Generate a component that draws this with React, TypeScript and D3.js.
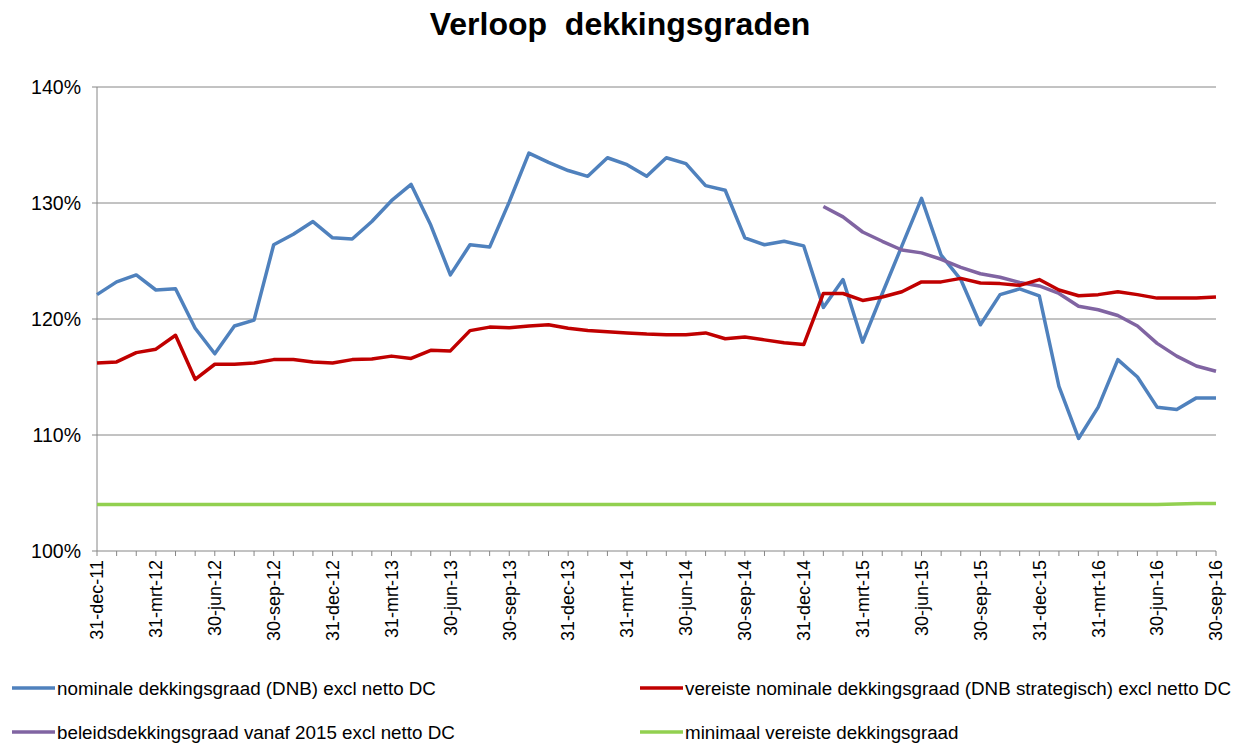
import * as d3 from 'd3';

// monthly values, 31-dec-11 .. 30-sep-16 (58 months)
const nominaal = [
  122.1, 123.2, 123.8, 122.5, 122.6, 119.2, 117.0, 119.4, 119.9, 126.4,
  127.3, 128.4, 127.0, 126.9, 128.4, 130.2, 131.6, 128.1, 123.8, 126.4,
  126.2, 130.1, 134.3, 133.5, 132.8, 132.3, 133.9, 133.3, 132.3, 133.9,
  133.4, 131.5, 131.1, 127.0, 126.4, 126.7, 126.3, 121.0, 123.4, 118.0,
  122.2, 126.3, 130.4, 125.5, 123.4, 119.5, 122.1, 122.6, 122.0, 114.2,
  109.7, 112.4, 116.5, 115.0, 112.4, 112.2, 113.2, 113.2,
];
const vereist = [
  116.2, 116.3, 117.1, 117.4, 118.6, 114.8, 116.1, 116.1, 116.2, 116.5,
  116.5, 116.3, 116.2, 116.5, 116.55, 116.8, 116.6, 117.3, 117.25, 119.0,
  119.3, 119.25, 119.4, 119.5, 119.2, 119.0, 118.9, 118.8, 118.7, 118.65,
  118.65, 118.8, 118.3, 118.45, 118.2, 117.95, 117.8, 122.2, 122.2, 121.6,
  121.9, 122.35, 123.2, 123.2, 123.5, 123.1, 123.05, 122.9, 123.4, 122.5,
  122.0, 122.1, 122.35, 122.1, 121.8, 121.8, 121.8, 121.9,
];
// beleidsdekkingsgraad starts 31-jan-15 (month index 37)
const beleidStart = 37;
const beleid = [
  129.7, 128.8, 127.5, 126.7, 125.95, 125.7, 125.15, 124.45, 123.9, 123.6,
  123.15, 122.85, 122.2, 121.1, 120.8, 120.3, 119.4, 117.9, 116.8, 115.95,
  115.5,
];
const minimaal = [
  104.0, 104.0, 104.0, 104.0, 104.0, 104.0, 104.0, 104.0, 104.0, 104.0,
  104.0, 104.0, 104.0, 104.0, 104.0, 104.0, 104.0, 104.0, 104.0, 104.0,
  104.0, 104.0, 104.0, 104.0, 104.0, 104.0, 104.0, 104.0, 104.0, 104.0,
  104.0, 104.0, 104.0, 104.0, 104.0, 104.0, 104.0, 104.0, 104.0, 104.0,
  104.0, 104.0, 104.0, 104.0, 104.0, 104.0, 104.0, 104.0, 104.0, 104.0,
  104.0, 104.0, 104.0, 104.0, 104.0, 104.05, 104.1, 104.1,
];
const tickLabels = [
  '31-dec-11', '31-mrt-12', '30-jun-12', '30-sep-12', '31-dec-12', '31-mrt-13',
  '30-jun-13', '30-sep-13', '31-dec-13', '31-mrt-14', '30-jun-14', '30-sep-14',
  '31-dec-14', '31-mrt-15', '30-jun-15', '30-sep-15', '31-dec-15', '31-mrt-16',
  '30-jun-16', '30-sep-16',
];
const yTicks = [100, 110, 120, 130, 140];

const seriesNames = [
  'nominale dekkingsgraad (DNB) excl netto DC',
  'vereiste nominale dekkingsgraad (DNB strategisch) excl netto DC',
  'beleidsdekkingsgraad vanaf 2015 excl netto DC',
  'minimaal vereiste dekkingsgraad',
];
const colors = ['#4F81BD', '#C00000', '#8064A2', '#92D050'];

const W = 1250;
const H = 744;
const M = { top: 87, right: 34, bottom: 193, left: 97 };
const FONT = '"Liberation Sans", Arial, sans-serif';

type Pt = { i: number; v: number };

export default function App() {
  const innerW = W - M.left - M.right;
  const innerH = H - M.top - M.bottom;

  const x = d3.scaleLinear().domain([0, nominaal.length - 1]).range([0, innerW]);
  const y = d3.scaleLinear().domain([100, 140]).range([innerH, 0]);

  const line = d3
    .line<Pt>()
    .x((d) => x(d.i))
    .y((d) => y(d.v));

  const toPts = (arr: number[], start = 0): Pt[] => arr.map((v, k) => ({ i: k + start, v }));
  const series = [toPts(nominaal), toPts(vereist), toPts(beleid, beleidStart), toPts(minimaal)];
  // red sits on top of blue where they cross
  const drawOrder = [3, 0, 2, 1];

  const legendPos = [
    { x: 12, y: 688 },
    { x: 640, y: 688 },
    { x: 12, y: 732 },
    { x: 640, y: 732 },
  ];

  return (
    <svg
      width={W}
      height={H}
      style={{ position: 'absolute', left: 0, top: 0, background: '#fff' }}
      fontFamily={FONT}
    >
      <text
        x={620}
        y={35}
        textAnchor="middle"
        fontSize={32}
        fontWeight="bold"
        fill="#000"
        style={{ whiteSpace: 'pre' }}
      >
        {'Verloop  dekkingsgraden'}
      </text>
      <g transform={`translate(${M.left},${M.top})`}>
        {yTicks.map((t) => (
          <g key={t}>
            {t > 100 && (
              <line x1={0} x2={innerW} y1={y(t)} y2={y(t)} stroke="#868686" strokeWidth={1} />
            )}
            <line x1={-5} x2={0} y1={y(t)} y2={y(t)} stroke="#868686" />
            <text x={-16} y={y(t)} dy="0.35em" textAnchor="end" fontSize={19.5} fill="#000">
              {t}%
            </text>
          </g>
        ))}
        <line x1={0} x2={0} y1={0} y2={innerH} stroke="#868686" />
        <line x1={0} x2={innerW} y1={innerH} y2={innerH} stroke="#868686" />
        {d3.range(nominaal.length).map((i) => (
          <line
            key={i}
            x1={x(i)}
            x2={x(i)}
            y1={innerH}
            y2={innerH + 5}
            stroke="#868686"
          />
        ))}
        {tickLabels.map((lab, k) => (
          <text
            key={lab}
            transform={`translate(${x(k * 3)},${innerH + 9}) rotate(-90)`}
            dy="0.35em"
            textAnchor="end"
            fontSize={18}
            fill="#000"
          >
            {lab}
          </text>
        ))}
        {drawOrder.map((s) => (
          <path
            key={s}
            d={line(series[s]) ?? ''}
            fill="none"
            stroke={colors[s]}
            strokeWidth={3.5}
            strokeLinejoin="round"
          />
        ))}
      </g>
      {seriesNames.map((name, s) => (
        <g key={name} transform={`translate(${legendPos[s].x},${legendPos[s].y})`}>
          <line x1={0} x2={43} y1={0} y2={0} stroke={colors[s]} strokeWidth={3.5} />
          <text x={45} y={0} dy="0.35em" fontSize={18.8} fill="#000">
            {name}
          </text>
        </g>
      ))}
    </svg>
  );
}
